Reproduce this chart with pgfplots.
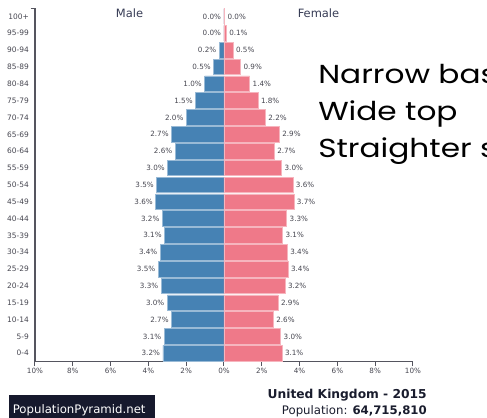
\documentclass[border=0pt]{standalone}
\usepackage{pgfplots}
\usepackage{pgfplotstable}
\pgfplotsset{compat=1.18}
\usepackage{fontspec}
\setmainfont{DejaVu Sans}
\newfontfamily\geo{Poppins}[FakeStretch=1.2]
\definecolor{male}{RGB}{70,130,180}
\definecolor{female}{RGB}{239,121,137}
\definecolor{txt}{RGB}{70,70,80}
\definecolor{head}{RGB}{55,60,85}
\definecolor{axisc}{RGB}{85,85,95}
\definecolor{navy}{RGB}{22,25,45}
\definecolor{dark}{RGB}{25,28,45}

\pgfplotstableread{
row m ml f fl
0 3.23 3.2 3.07 3.1
1 3.16 3.1 3.00 3.0
2 2.77 2.7 2.61 2.6
3 3.00 3.0 2.86 2.9
4 3.32 3.3 3.23 3.2
5 3.48 3.5 3.39 3.4
6 3.37 3.4 3.35 3.4
7 3.14 3.1 3.10 3.1
8 3.26 3.2 3.32 3.3
9 3.61 3.6 3.70 3.7
10 3.56 3.5 3.65 3.6
11 2.98 3.0 3.05 3.0
12 2.58 2.6 2.66 2.7
13 2.77 2.7 2.93 2.9
14 1.99 2.0 2.19 2.2
15 1.50 1.5 1.80 1.8
16 1.02 1.0 1.36 1.4
17 0.545 0.5 0.88 0.9
18 0.25 0.2 0.48 0.5
19 0.0 0.0 0.12 0.1
20 0.0 0.0 0.03 0.0
}\pop

\begin{document}
\begin{tikzpicture}
\begin{axis}[
  at={(26.25pt,-271.275pt)}, anchor=south west,
  scale only axis, width=283.5pt, height=265.3pt,
  xmin=-10, xmax=10, ymin=-0.5, ymax=20.5,
  axis x line*=bottom, axis y line*=left,
  axis line style={draw=axisc, line width=0.8pt},
  xtick={-10,-8,...,10},
  xticklabels={10\%,8\%,6\%,4\%,2\%,0\%,2\%,4\%,6\%,8\%,10\%},
  ytick={0,...,20},
  yticklabels={0-4,5-9,10-14,15-19,20-24,25-29,30-34,35-39,40-44,45-49,50-54,55-59,60-64,65-69,70-74,75-79,80-84,85-89,90-94,95-99,100+},
  tick align=outside, major tick length=3.4pt,
  x tick style={draw=axisc, line width=0.75pt},
  y tick style={draw=none},
  x tick label style={font=\fontsize{5.4}{6}\selectfont, text=txt, inner ysep=1.5pt},
  y tick label style={font=\fontsize{5.6}{6}\selectfont, text=txt, inner xsep=1pt},
  xbar, bar width=0.93, bar shift=0pt,
  clip=false,
  point meta=explicit symbolic,
  nodes near coords={\pgfplotspointmeta\%},
  nodes near coords style={font=\fontsize{5.4}{6}\selectfont, text=txt, inner xsep=2pt},
]
\addplot[fill=male, draw=male!55!white, line width=0.5pt,
  every node near coord/.append style={anchor=east}]
  table[x expr=-\thisrow{m}, y=row, meta=ml] {\pop};
\addplot[fill=female, draw=female!55!white, line width=0.5pt,
  every node near coord/.append style={anchor=west}]
  table[x=f, y=row, meta=fl] {\pop};
\end{axis}
\begin{scope}[x=0.75pt,y=-0.75pt]
\draw[axisc, line width=0.75pt] (30.5,8) -- (35,8);
\node[anchor=base, text=head, font=\fontsize{8.6}{10}\selectfont] at (129.5,17.3) {Male};
\node[anchor=base, text=head, font=\fontsize{8.6}{10}\selectfont] at (318.5,17.3) {Female};
\node[anchor=base west, inner sep=0pt, font=\geo\fontsize{19.5}{22}\selectfont] at (318,83.3) {Narrow base};
\node[anchor=base west, inner sep=0pt, font=\geo\fontsize{19.5}{22}\selectfont] at (318,120) {Wide top};
\node[anchor=base west, inner sep=0pt, font=\geo\fontsize{19.5}{22}\selectfont] at (318,157) {Straighter sides};
\fill[navy] (9.5,395) rectangle (154.5,418);
\node[anchor=base west, inner sep=0pt, text=white, font=\fontsize{8.8}{10}\selectfont] at (12.5,413) {PopulationPyramid.net};
\node[anchor=base east, inner sep=0pt, text=dark, font=\bfseries\fontsize{9.2}{10}\selectfont] at (427,398) {United Kingdom - 2015};
\node[anchor=base east, inner sep=0pt, text=dark, font=\fontsize{8.8}{10}\selectfont] at (427,414.3) {Population: \textbf{64,715,810}};
\end{scope}
\pgfresetboundingbox
\useasboundingbox (0,0) rectangle (365.25pt,-313.5pt);
\end{tikzpicture}
\end{document}
